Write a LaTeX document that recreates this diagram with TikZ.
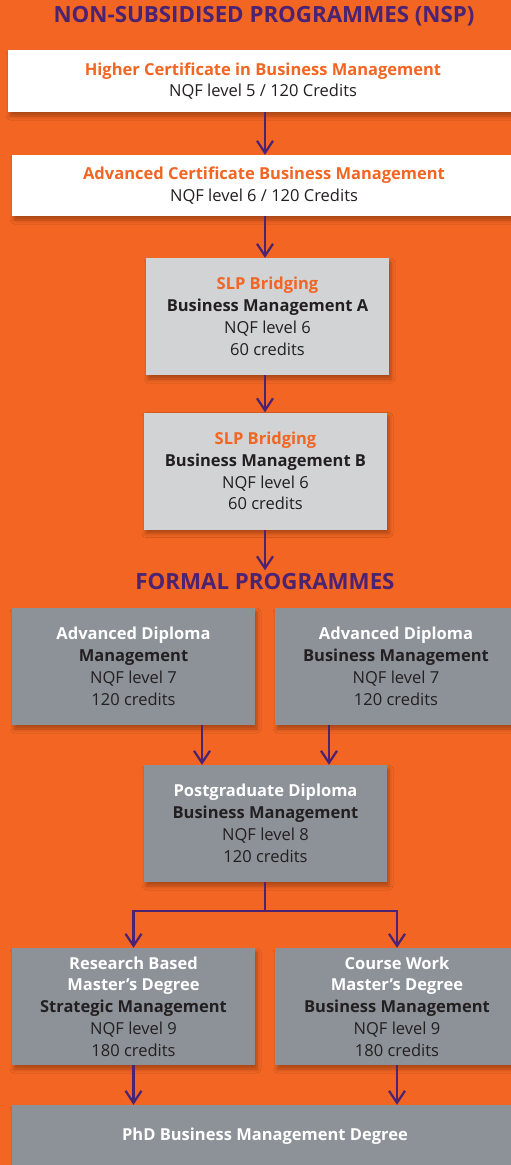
\documentclass[tikz,border=0pt]{standalone}
\usepackage{fontspec}
\setmainfont{Open Sans}
\usetikzlibrary{arrows.meta,shadows.blur}
\definecolor{bgorange}{HTML}{F26522}
\definecolor{nspurple}{HTML}{4A2372}
\definecolor{lgray}{HTML}{D1D3D4}
\definecolor{dgray}{HTML}{8C9298}
\definecolor{dtext}{HTML}{231F20}
\tikzset{
  box/.style={rectangle, inner sep=0pt, align=center, text=dtext,
    font=\fontsize{16.5}{21.8}\selectfont,
    blur shadow={shadow xshift=2pt, shadow yshift=-4pt, shadow blur radius=4pt, shadow opacity=30}},
  whitebox/.style={box, fill=white},
  lightbox/.style={box, fill=lgray, minimum width=243pt, minimum height=117pt},
  darkbox/.style={box, fill=dgray},
  flow/.style={draw=nspurple, line width=2.3pt, -{Straight Barb[length=12pt,width=16pt,line width=2.2pt]}},
  link/.style={draw=nspurple, line width=2.3pt},
  heading/.style={text=nspurple, font=\bfseries\fontsize{22.3}{25}\selectfont},
}
\newcommand{\ot}[1]{\textcolor{bgorange}{\bfseries #1}}
\newcommand{\wt}[1]{\textcolor{white}{\bfseries #1}}
\newcommand{\bt}[1]{{\bfseries #1}}
\begin{document}
\begin{tikzpicture}[x=1pt,y=-1pt]
\fill[bgorange] (0,0) rectangle (511,1165);
\useasboundingbox (0,0) rectangle (511,1165);

\node[heading] (h1) at (264,16) {NON-SUBSIDISED PROGRAMMES (NSP)};

\node[whitebox, minimum width=510pt, minimum height=62pt] (b1) at (263,81)
  {\ot{Higher Certificate in Business Management}\\NQF level 5 / 120 Credits};
\node[whitebox, minimum width=504pt, minimum height=61pt] (b2) at (264,185.5)
  {\ot{Advanced Certificate Business Management}\\NQF level 6 / 120 Credits};
\node[lightbox] (b3) at (267.5,316.5)
  {\ot{SLP Bridging}\\\bt{Business Management A}\\NQF level 6\\60 credits};
\node[lightbox] (b4) at (265.5,471)
  {\ot{SLP Bridging}\\\bt{Business Management B}\\NQF level 6\\60 credits};

\node[heading] (h2) at (265,582) {FORMAL PROGRAMMES};

\node[darkbox, minimum width=243pt, minimum height=117pt] (b5) at (133.5,666.5)
  {\wt{Advanced Diploma}\\\bt{Management}\\NQF level 7\\120 credits};
\node[darkbox, minimum width=242pt, minimum height=117pt] (b6) at (396,666.5)
  {\wt{Advanced Diploma}\\\bt{Business Management}\\NQF level 7\\120 credits};
\node[darkbox, minimum width=243pt, minimum height=117pt] (b7) at (265.5,823.5)
  {\wt{Postgraduate Diploma}\\\bt{Business Management}\\NQF level 8\\120 credits};
\node[darkbox, minimum width=243pt, minimum height=117pt] (b8) at (133.5,1006.5)
  {\wt{Research Based}\\\wt{Master’s Degree}\\\bt{Strategic Management}\\NQF level 9\\180 credits};
\node[darkbox, minimum width=244pt, minimum height=117pt] (b9) at (397,1006.5)
  {\wt{Course Work}\\\wt{Master’s Degree}\\\bt{Business Management}\\NQF level 9\\180 credits};
\node[darkbox, minimum width=506pt, minimum height=62pt] (b10) at (265,1136)
  {\wt{PhD Business Management Degree}};

\draw[flow] (b1.south -| 265,0) -- (b2.north -| 265,0);
\draw[flow] (b2.south -| 265,0) -- (b3.north -| 265,0);
\draw[flow] (b3.south -| 265,0) -- (b4.north -| 265,0);
\draw[flow] (b4.south -| 265,0) -- (h2.north -| 265,0);
\draw[flow] (b5.south -| 202,0) -- (b7.north -| 202,0);
\draw[flow] (b6.south -| 329,0) -- (b7.north -| 329,0);
\coordinate (split) at (265,911);
\draw[link] (b7.south -| split) -- (split);
\draw[flow] (split) -| (b8.north);
\draw[flow] (split) -| (b9.north);
\draw[flow] (b8.south) -- (b10.north -| b8.south);
\draw[flow] (b9.south) -- (b10.north -| b9.south);
\end{tikzpicture}
\end{document}
